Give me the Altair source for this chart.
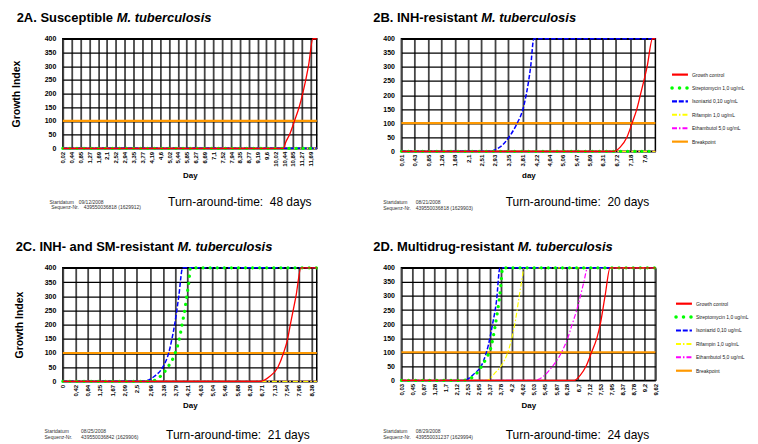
import altair as alt
import pandas as pd

# ---------------- data ----------------
SERIES = ["Growth control", "Streptomycin 1,0 ug/mL", "Isoniazid 0,10 ug/mL",
          "Rifampin 1,0 ug/mL", "Ethambutol 5,0 ug/mL", "Breakpoint"]
GC, SM, INH, RIF, EMB, BP = SERIES
ORGANISM = "M. tuberculosis"
Y_TICKS = [0, 50, 100, 150, 200, 250, 300, 350, 400]

# 2A
A_TITLE = "2A. Susceptible"
A_TICKS = [0.02, 0.44, 0.85, 1.27, 1.69, 2.1, 2.52, 2.94, 3.35, 3.77, 4.19, 4.6, 5.02, 5.44,
           5.85, 6.27, 6.69, 7.1, 7.52, 7.94, 8.35, 8.77, 9.19, 9.6, 10.02, 10.44, 10.85,
           11.27, 11.69]
A_RANGE = [0.02, 11.97]
A_GC_DAY = [0.02, 10.40, 10.52, 10.69, 10.92, 11.14, 11.31, 11.58, 11.79, 11.97]
A_GC_VAL = [0, 0, 24, 50, 100, 150, 200, 300, 400, 400]
A_FLAT_DAY = [0.02, 11.97]
A_FLAT_VAL = [0, 0]
A_BP_VAL = [100, 100]
A_START, A_SEQ, A_TAT = "09/12/2008", "439550036818 (1629912)", "48 days"

# 2B
B_TITLE = "2B. INH-resistant"
B_TICKS = [0.01, 0.43, 0.85, 1.26, 1.68, 2.1, 2.51, 2.93, 3.35, 3.81, 4.22, 4.64, 5.06, 5.47,
           5.89, 6.31, 6.72, 7.18, 7.6]
B_RANGE = [0.01, 7.95]
B_GC_DAY = [0.01, 6.64, 6.85, 7.06, 7.22, 7.37, 7.48, 7.69, 7.86, 7.95]
B_GC_VAL = [0, 0, 15, 50, 100, 150, 200, 300, 400, 400]
B_INH_DAY = [0.01, 2.80, 2.95, 3.16, 3.37, 3.63, 3.81, 3.91, 4.05, 4.15, 7.95]
B_INH_VAL = [0, 0, 6, 21, 50, 100, 150, 200, 300, 400, 400]
B_FLAT_DAY = [0.01, 7.95]
B_FLAT_VAL = [0, 0]
B_BP_VAL = [100, 100]
B_START, B_SEQ, B_TAT = "08/21/2008", "439550036818 (1629903)", "20 days"

# 2C
C_TITLE = "2C. INH- and SM-resistant"
C_TICKS = [0, 0.42, 0.84, 1.25, 1.67, 2.09, 2.5, 2.96, 3.38, 3.79, 4.21, 4.63, 5.04, 5.46,
           5.88, 6.29, 6.71, 7.13, 7.54, 7.96, 8.38]
C_RANGE = [0, 8.56]
C_GC_DAY = [0, 6.68, 6.95, 7.25, 7.44, 7.58, 7.67, 7.86, 8.03, 8.56]
C_GC_VAL = [0, 0, 15, 50, 100, 150, 200, 300, 400, 400]
C_INH_DAY = [0, 2.70, 3.09, 3.37, 3.57, 3.68, 3.77, 3.91, 4.04, 8.56]
C_INH_VAL = [0, 0, 18, 50, 100, 150, 200, 300, 400, 400]
C_SM_DAY = [0, 2.98, 3.26, 3.54, 3.79, 3.93, 4.02, 4.11, 4.18, 4.25, 4.30, 8.56]
C_SM_VAL = [0, 0, 15, 50, 100, 150, 200, 250, 300, 350, 400, 400]
C_FLAT_DAY = [0, 8.56]
C_FLAT_VAL = [0, 0]
C_BP_VAL = [100, 100]
C_START, C_SEQ, C_TAT = "08/25/2008", "439550036842 (1629906)", "21 days"

# 2D
D_TITLE = "2D. Multidrug-resistant"
D_TICKS = [0.03, 0.45, 0.87, 1.28, 1.7, 2.12, 2.53, 2.95, 3.37, 3.78, 4.2, 4.62, 5.03, 5.45,
           5.87, 6.28, 6.7, 7.12, 7.53, 7.95, 8.37, 8.78, 9.2, 9.62]
D_RANGE = [0.03, 9.62]
D_GC_DAY = [0.03, 6.56, 6.78, 7.00, 7.21, 7.41, 7.54, 7.72, 7.91, 9.62]
D_GC_VAL = [0, 0, 18, 50, 100, 150, 200, 300, 400, 400]
D_INH_DAY = [0.03, 2.38, 2.75, 3.13, 3.32, 3.47, 3.62, 3.75, 9.62]
D_INH_VAL = [0, 0, 21, 69, 128, 199, 282, 400, 400]
D_SM_DAY = [0.03, 2.40, 2.50, 2.73, 3.04, 3.19, 3.44, 3.57, 3.67, 3.75, 3.81, 3.85, 9.62]
D_SM_VAL = [0, 0, 4, 12, 47, 71, 128, 193, 252, 305, 364, 400, 400]
D_RIF_DAY = [0.03, 3.25, 3.60, 3.82, 4.03, 4.20, 4.34, 4.48, 4.60, 4.65, 9.62]
D_RIF_VAL = [0, 0, 30, 55, 95, 150, 215, 300, 370, 400, 400]
D_EMB_DAY = [0.03, 5.06, 5.40, 5.72, 6.08, 6.31, 6.48, 6.65, 6.79, 6.92, 7.06, 9.62]
D_EMB_VAL = [0, 0, 15, 48, 100, 150, 200, 250, 300, 350, 400, 400]
D_BP_DAY = [0.03, 9.62]
D_BP_VAL = [100, 100]
D_START, D_SEQ, D_TAT = "08/29/2008", "439550031237 (1629994)", "24 days"

# ---------------- styles ----------------
FONT = "Liberation Sans"
DRAW_ORDER = [BP, EMB, RIF, INH, SM, GC]
STYLE = {
    GC: dict(color="#FF0000", strokeWidth=1.3),
    SM: dict(color="#00FF00", strokeWidth=3.2, strokeDash=[0.1, 7], strokeCap="round"),
    INH: dict(color="#0000FF", strokeWidth=1.5, strokeDash=[4.5, 2]),
    RIF: dict(color="#FFFF00", strokeWidth=1.2, strokeDash=[5, 2, 1.5, 2]),
    EMB: dict(color="#FF00FF", strokeWidth=1.2, strokeDash=[5, 2, 1.5, 2]),
    BP: dict(color="#FF9900", strokeWidth=2.2),
}
LEGEND_STYLE = {
    GC: dict(color="#FF0000", strokeWidth=2.2),
    SM: dict(color="#00FF00", strokeWidth=3.5, strokeDash=[0.1, 7.4], strokeCap="round"),
    INH: dict(color="#0000FF", strokeWidth=2.2, strokeDash=[5, 1.8]),
    RIF: dict(color="#FFFF00", strokeWidth=2, strokeDash=[5, 2, 1.5, 2]),
    EMB: dict(color="#FF00FF", strokeWidth=2, strokeDash=[5, 2, 1.5, 2]),
    BP: dict(color="#FF9900", strokeWidth=2.2),
}
W = 255


def txt(text, x, y, size, weight="normal", style="normal", baseline="alphabetic", color="black"):
    return alt.Chart(pd.DataFrame({"t": [text]})).mark_text(
        align="left", baseline=baseline, fontSize=size, fontWeight=weight,
        fontStyle=style, color=color, font=FONT
    ).encode(x=alt.value(x), y=alt.value(y), text="t:N")


def panel(curves, ticks, rng, H, title, ital_x, title_x, xtitle, xtitle_y,
          ytitle_x, legend_x, start, seq, tat, lay):
    rows = []
    for s, (d, v) in curves.items():
        for di, vi in zip(d, v):
            rows.append({"series": s, "day": di, "value": vi})
    df = pd.DataFrame(rows)

    x_enc = alt.X("day:Q", scale=alt.Scale(domain=rng, nice=False, zero=False),
                  axis=alt.Axis(values=ticks,
                                labelExpr="replace(toString(datum.value), '.', ',')",
                                grid=True, gridColor="#454545", gridWidth=1.8,
                                ticks=False, domain=False, labelAngle=270,
                                labelFontSize=6, labelFontWeight="bold", labelPadding=3,
                                labelOverlap=False, labelFlush=False, labelBound=False,
                                labelColor="black", title=xtitle, titleFontSize=8,
                                titleFontWeight="bold", titleX=W / 2, titleY=xtitle_y,
                                titleBaseline="middle", titleAlign="center",
                                titleColor="black"))
    yaxis = dict(values=Y_TICKS, grid=True, gridColor="black", gridWidth=1.3, ticks=False,
                 domain=False, labelFontSize=7, labelFontWeight="bold", labelPadding=7,
                 labelColor="black")
    if ytitle_x is not None:
        yaxis.update(title="Growth Index", titleFontSize=10.5, titleFontWeight="bold",
                     titleAngle=270, titleX=ytitle_x, titleY=H / 2, titleBaseline="middle",
                     titleAlign="center", titleColor="black")
    else:
        yaxis.update(title=None)
    y_enc = alt.Y("value:Q", scale=alt.Scale(domain=[0, 400], nice=False),
                  axis=alt.Axis(**yaxis))

    layers = []
    for s in DRAW_ORDER:
        if s not in curves:
            continue
        layers.append(
            alt.Chart(df).transform_filter(alt.datum.series == s)
            .mark_line(interpolate="monotone", **STYLE[s])
            .encode(x=x_enc, y=y_enc)
        )
    main = alt.layer(*layers)

    texts = [
        txt(title, title_x, -16.8, 13, weight="bold"),
        txt(ORGANISM, ital_x, -16.8, 13, weight="bold", style="italic"),
        txt("Turn-around-time:\u00a0 " + tat, lay["tat_x"], lay["tat_y"], 12),
        txt("Startdatum", lay["sd_x"], lay["sd_y"], 5, baseline="middle", color="#333333"),
        txt(start, lay["sd_vx"], lay["sd_y"], 5, baseline="middle", color="#333333"),
        txt("Sequenz-Nr.", lay["sq_x"], lay["sq_y"], 5, baseline="middle", color="#333333"),
        txt(seq, lay["sq_vx"], lay["sq_y"], 5, baseline="middle", color="#333333"),
    ]

    if legend_x is not None:
        ldf = pd.DataFrame({"series": SERIES})
        yl = alt.Y("series:N", scale=alt.Scale(type="point", domain=SERIES,
                                                range=[36, 103.3], padding=0), axis=None)
        leg = []
        for s in SERIES:
            leg.append(
                alt.Chart(ldf).transform_filter(alt.datum.series == s)
                .mark_rule(**LEGEND_STYLE[s])
                .encode(x=alt.value(legend_x), x2=alt.value(legend_x + 16), y=yl)
            )
        leg.append(
            alt.Chart(ldf).mark_text(align="left", baseline="middle", fontSize=5,
                                     color="#222222", font=FONT)
            .encode(x=alt.value(legend_x + 20), y=yl, text="series:N")
        )
        legend = alt.layer(*leg)
        chart = alt.layer(main, legend, *texts).resolve_scale(y="independent")
    else:
        chart = alt.layer(main, *texts)
    return chart.properties(width=W, height=H)


pA = panel({GC: (A_GC_DAY, A_GC_VAL), SM: (A_FLAT_DAY, A_FLAT_VAL), INH: (A_FLAT_DAY, A_FLAT_VAL),
            RIF: (A_FLAT_DAY, A_FLAT_VAL), EMB: (A_FLAT_DAY, A_FLAT_VAL),
            BP: (A_FLAT_DAY, A_BP_VAL)},
           A_TICKS, A_RANGE, 110, A_TITLE, 54.1, -46.3, "Day", 27, -46, None,
           A_START, A_SEQ, A_TAT,
           dict(tat_x=105.7, tat_y=167.7, sd_x=-13.3, sd_vx=16, sd_y=163.7,
                sq_x=-11.6, sq_vx=21, sq_y=169.4))

pB = panel({GC: (B_GC_DAY, B_GC_VAL), SM: (B_FLAT_DAY, B_FLAT_VAL), INH: (B_INH_DAY, B_INH_VAL),
            RIF: (B_FLAT_DAY, B_FLAT_VAL), EMB: (B_FLAT_DAY, B_FLAT_VAL),
            BP: (B_FLAT_DAY, B_BP_VAL)},
           B_TICKS, B_RANGE, 113, B_TITLE, 80.1, -28.3, "day", 24, None, 271.7,
           B_START, B_SEQ, B_TAT,
           dict(tat_x=104.7, tat_y=168.3, sd_x=-18.3, sd_vx=14.4, sd_y=164.3,
                sq_x=-18.3, sq_vx=14.4, sq_y=170))

pC = panel({GC: (C_GC_DAY, C_GC_VAL), SM: (C_SM_DAY, C_SM_VAL), INH: (C_INH_DAY, C_INH_VAL),
            RIF: (C_FLAT_DAY, C_FLAT_VAL), EMB: (C_FLAT_DAY, C_FLAT_VAL),
            BP: (C_FLAT_DAY, C_BP_VAL)},
           C_TICKS, C_RANGE, 114, C_TITLE, 115.2, -47.3, "Day", 24, -43.5, None,
           C_START, C_SEQ, C_TAT,
           dict(tat_x=103.7, tat_y=172, sd_x=-18.3, sd_vx=18.4, sd_y=163.7,
                sq_x=-18.3, sq_vx=18.4, sq_y=169.7))

pD = panel({GC: (D_GC_DAY, D_GC_VAL), SM: (D_SM_DAY, D_SM_VAL), INH: (D_INH_DAY, D_INH_VAL),
            RIF: (D_RIF_DAY, D_RIF_VAL), EMB: (D_EMB_DAY, D_EMB_VAL),
            BP: (D_BP_DAY, D_BP_VAL)},
           D_TICKS, D_RANGE, 113, D_TITLE, 116.9, -28.3, "Day", 25, None, 275.7,
           D_START, D_SEQ, D_TAT,
           dict(tat_x=104.7, tat_y=172.3, sd_x=-18.3, sd_vx=14.4, sd_y=164,
                sq_x=-18.3, sq_vx=14.4, sq_y=170))

chart = alt.concat(pA, pB, pC, pD, columns=2,
                   spacing={"row": 117, "column": 85}, bounds="flush").properties(
    padding={"left": 3, "top": 2, "right": 0, "bottom": 0}
).configure(font=FONT, background="white").configure_view(stroke="black", strokeWidth=1.5)

chart.save("out.html", embed_options={"renderer": "svg", "actions": False})
